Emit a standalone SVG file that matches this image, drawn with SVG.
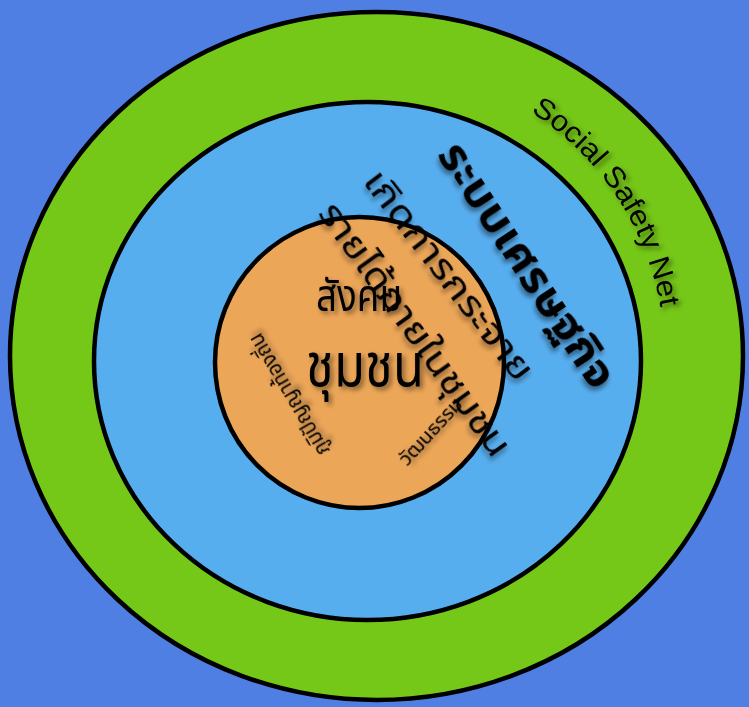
<svg xmlns="http://www.w3.org/2000/svg" width="749" height="707" viewBox="0 0 749 707">
  <defs>
    <filter id="sh" x="-20%" y="-20%" width="140%" height="140%">
      <feDropShadow dx="3" dy="3" stdDeviation="2.5" flood-color="#000" flood-opacity="0.45"/>
    </filter>
    <path id="arcSocial" d="M 518.5 104.3 A 293 293 0 0 1 665 358"/>
  </defs>
  <style>
    .ring { stroke: #000; stroke-width: 4.5; }
    .th { font-family: 'Noto Sans Thai', 'Noto Sans Thai Looped', Loma, Garuda, 'Noto Sans', sans-serif; fill: #000; filter: url(#sh); }
    .en { font-family: 'Liberation Sans', Arial, sans-serif; fill: #000; filter: url(#sh); }
  </style>
  <rect x="0" y="0" width="749" height="707" fill="#4f7fe2"/>

  <g id="ring-social-safety-net">
    <ellipse class="ring" cx="376.5" cy="356" rx="366.5" ry="344" fill="#75c718"/>
    <text class="en" font-size="29"><textPath href="#arcSocial" startOffset="14" textLength="242" lengthAdjust="spacingAndGlyphs">Social Safety Net</textPath></text>
  </g>

  <g id="ring-economy">
    <ellipse class="ring" cx="367.5" cy="361" rx="273.5" ry="259" fill="#57aeef"/>
    <text class="th" font-size="44" font-weight="bold" text-anchor="middle" transform="translate(526,266) rotate(56.6)" x="0" y="13" textLength="285" lengthAdjust="spacingAndGlyphs">ระบบเศรษฐกิจ</text>
  </g>

  <g id="circle-community">
    <ellipse class="ring" cx="359.5" cy="362.5" rx="144.5" ry="145.5" fill="#eca658"/>
    <text class="th" font-size="44" x="316" y="311" textLength="86" lengthAdjust="spacingAndGlyphs">สังคม</text>
    <text class="th" font-size="60" x="306" y="386" textLength="118" lengthAdjust="spacingAndGlyphs">ชุมชน</text>
    <text class="th" font-size="21" text-anchor="middle" transform="translate(290,394) rotate(239.5)" x="0" y="6" textLength="138" lengthAdjust="spacingAndGlyphs">ภูมิปัญญาท้องถิ่น</text>
    <text class="th" font-size="19" text-anchor="middle" transform="translate(431,432) rotate(-47.5)" x="0" y="6" textLength="84" lengthAdjust="spacingAndGlyphs">วัฒนธรรม</text>
  </g>

  <g id="label-distribution">
    <text class="th" font-size="36" text-anchor="middle" transform="translate(448,276) rotate(52.6)" x="0" y="11" textLength="255" lengthAdjust="spacingAndGlyphs">เกิดการกระจาย</text>
    <text class="th" font-size="36" text-anchor="middle" transform="translate(414,330) rotate(54.4)" x="0" y="11" textLength="303" lengthAdjust="spacingAndGlyphs">รายได้ภายในชุมชน</text>
  </g>
</svg>
